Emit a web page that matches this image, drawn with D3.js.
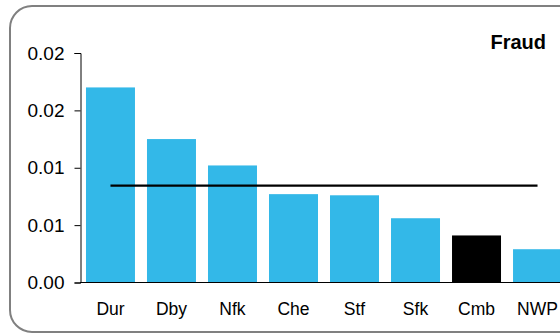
<!DOCTYPE html>
<html>
<head>
<meta charset="utf-8">
<script src="https://cdn.jsdelivr.net/npm/d3@7"></script>
<style>
  html, body { margin: 0; padding: 0; background: #fff; }
  svg { display: block; font-family: "Liberation Sans", Arial, Helvetica, sans-serif; }
</style>
</head>
<body>
<svg id="chart" width="560" height="334"></svg>
<script>
const categories = ["Dur", "Dby", "Nfk", "Che", "Stf", "Sfk", "Cmb", "NWP"];
const values = [0.0170, 0.0125, 0.0102, 0.0077, 0.0076, 0.0056, 0.0041, 0.0029];
const highlight = ["Cmb"];
const averageValue = 0.00845;
const yTicks = [0, 0.005, 0.01, 0.015, 0.02];
const yTickLabels = ["0.00", "0.01", "0.01", "0.02", "0.02"];
const title = "Fraud";

const svg = d3.select("#chart");

// frame
svg.append("rect")
  .attr("x", 10).attr("y", 6)
  .attr("width", 590).attr("height", 326)
  .attr("rx", 22).attr("ry", 22)
  .attr("fill", "#fff")
  .attr("stroke", "#808080")
  .attr("stroke-width", 2);

const x = d3.scaleBand()
  .domain(categories)
  .range([80, 80 + 61 * categories.length])
  .paddingInner(0.197)
  .paddingOuter(0.098);

const y = d3.scaleLinear().domain([0, 0.02]).range([282.5, 53]);

// bars
svg.append("g").selectAll("rect")
  .data(categories)
  .join("rect")
  .attr("x", (d) => x(d))
  .attr("y", (d, i) => y(values[i]))
  .attr("width", x.bandwidth())
  .attr("height", (d, i) => y(0) - y(values[i]))
  .attr("fill", (d) => highlight.includes(d) ? "#000000" : "#33B8E8");

// y axis
const yAxis = d3.axisLeft(y)
  .tickValues(yTicks)
  .tickFormat((d, i) => yTickLabels[i])
  .tickSize(6).tickPadding(10);
const gy = svg.append("g").attr("transform", "translate(80.5,0)").call(yAxis);
gy.select(".domain").attr("stroke", "#000");
gy.selectAll(".tick line").attr("stroke", "#000");
gy.selectAll(".tick text")
  .attr("fill", "#000")
  .style("font-size", "19px")
  .style("font-family", "'Liberation Sans', Arial, sans-serif");

// x axis baseline + labels
const xAxis = d3.axisBottom(x).tickSize(0).tickPadding(20);
const gx = svg.append("g").attr("transform", "translate(0," + y(0) + ")").call(xAxis);
gx.select(".domain").attr("stroke", "#000").attr("d", "M80,0H600");
gx.selectAll(".tick text")
  .attr("fill", "#000")
  .style("font-size", "17.5px")
  .style("font-family", "'Liberation Sans', Arial, sans-serif");

// average line
const line = d3.line()
  .x((d) => x(d) + x.bandwidth() / 2)
  .y(() => y(averageValue));
svg.append("path")
  .datum(categories)
  .attr("d", line)
  .attr("fill", "none")
  .attr("stroke", "#000")
  .attr("stroke-width", 2.2);

// title
svg.append("text")
  .attr("x", 546).attr("y", 49)
  .attr("text-anchor", "end")
  .style("font-size", "20px")
  .style("font-weight", "bold")
  .text(title);
</script>
</body>
</html>
